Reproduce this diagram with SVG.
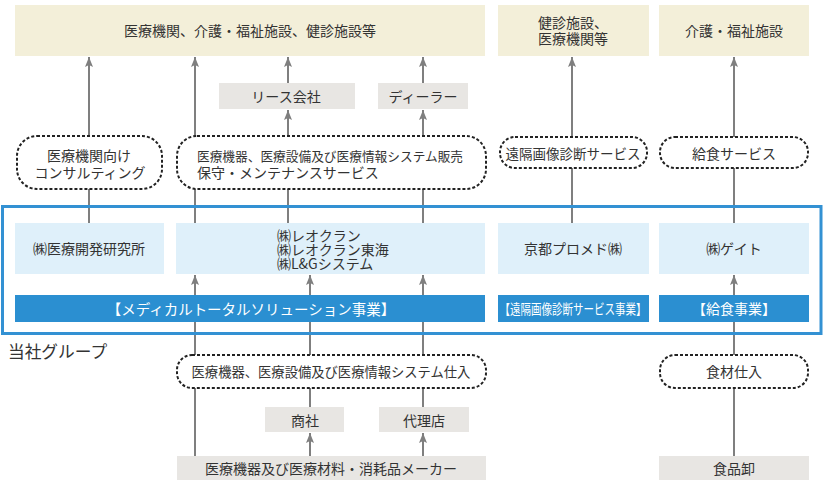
<svg xmlns="http://www.w3.org/2000/svg" width="823" height="483" viewBox="0 0 823 483">
<style>
text{font-family:"Noto Sans CJK JP","Noto Sans",sans-serif;font-size:14px;fill:#333;dominant-baseline:central}
.c{text-anchor:middle}
.w{fill:#fff}
.dest{fill:#f3efd9}
.mid{fill:#e8e6e3}
.co{fill:#dff0fa}
.bar{fill:#2b8fd1}
.pill{fill:#fff;stroke:#222;stroke-width:2;stroke-dasharray:3 2}
.ln{stroke:#7f7f7f;stroke-width:2;fill:none}
</style>
<defs>
<marker id="up" viewBox="0 0 8 10" refX="4" refY="0" markerUnits="userSpaceOnUse" markerWidth="8" markerHeight="10" orient="0">
<path d="M0,10 L4,0 L8,10 L4,8 Z" fill="#7f7f7f"/>
</marker>
</defs>
<g id="connectors">
<line class="ln" x1="89" y1="223" x2="89" y2="189"/>
<line class="ln" x1="89" y1="136" x2="89" y2="57" marker-end="url(#up)"/>
<line class="ln" x1="195" y1="223" x2="195" y2="189"/>
<line class="ln" x1="195" y1="136" x2="195" y2="57" marker-end="url(#up)"/>
<line class="ln" x1="288" y1="223" x2="288" y2="189"/>
<line class="ln" x1="288" y1="136" x2="288" y2="110" marker-end="url(#up)"/>
<line class="ln" x1="288" y1="83" x2="288" y2="57" marker-end="url(#up)"/>
<line class="ln" x1="423" y1="223" x2="423" y2="189"/>
<line class="ln" x1="423" y1="136" x2="423" y2="110" marker-end="url(#up)"/>
<line class="ln" x1="423" y1="83" x2="423" y2="57" marker-end="url(#up)"/>
<line class="ln" x1="572" y1="223" x2="572" y2="168"/>
<line class="ln" x1="572" y1="137" x2="572" y2="57" marker-end="url(#up)"/>
<line class="ln" x1="734" y1="223" x2="734" y2="168"/>
<line class="ln" x1="734" y1="137" x2="734" y2="57" marker-end="url(#up)"/>
<line class="ln" x1="195" y1="456" x2="195" y2="388"/>
<line class="ln" x1="195" y1="355" x2="195" y2="275" marker-end="url(#up)"/>
<line class="ln" x1="310" y1="456" x2="310" y2="433" marker-end="url(#up)"/>
<line class="ln" x1="310" y1="407" x2="310" y2="388"/>
<line class="ln" x1="310" y1="355" x2="310" y2="275" marker-end="url(#up)"/>
<line class="ln" x1="423" y1="456" x2="423" y2="433" marker-end="url(#up)"/>
<line class="ln" x1="423" y1="407" x2="423" y2="388"/>
<line class="ln" x1="423" y1="355" x2="423" y2="275" marker-end="url(#up)"/>
<line class="ln" x1="734" y1="456" x2="734" y2="388"/>
<line class="ln" x1="734" y1="355" x2="734" y2="275" marker-end="url(#up)"/>
</g>
<g id="group-frame">
<rect x="2.5" y="206.5" width="818.5" height="127" fill="none" stroke="#3391d3" stroke-width="3"/>
<text x="8" y="351" style="font-size:16.7px">当社グループ</text>
</g>
<g id="dest-main"><rect class="dest" x="15" y="5" width="470" height="51"/><text class="c" x="250" y="30">医療機関、介護・福祉施設、健診施設等</text></g>
<g id="dest-kenshin"><rect class="dest" x="498" y="5" width="151" height="51"/><text class="c" x="573" y="22">健診施設、</text><text class="c" x="573" y="38">医療機関等</text></g>
<g id="dest-kaigo"><rect class="dest" x="659" y="5" width="150" height="51"/><text class="c" x="734" y="30">介護・福祉施設</text></g>
<g id="lease"><rect class="mid" x="219" y="83" width="136" height="26"/><text class="c" x="286" y="96">リース会社</text></g>
<g id="dealer"><rect class="mid" x="378" y="83" width="90" height="26"/><text class="c" x="423" y="96">ディーラー</text></g>
<g id="pill-consult"><rect class="pill" x="17" y="136" width="145" height="53" rx="20"/><text class="c" x="89" y="155">医療機関向け</text><text class="c" x="90" y="172">コンサルティング</text></g>
<g id="pill-sales"><rect class="pill" x="177" y="136" width="309" height="53" rx="20"/><text x="197" y="155" style="font-size:12.7px">医療機器、医療設備及び医療情報システム販売</text><text x="197" y="172">保守・メンテナンスサービス</text></g>
<g id="pill-remote"><rect class="pill" x="500" y="137" width="147" height="31" rx="15"/><text class="c" x="573" y="153" style="font-size:13.5px">遠隔画像診断サービス</text></g>
<g id="pill-food"><rect class="pill" x="660" y="137" width="148" height="31" rx="15"/><text class="c" x="734" y="153">給食サービス</text></g>
<g id="co-kaihatsu"><rect class="co" x="15" y="223" width="149" height="51"/><text class="c" x="89" y="248">㈱医療開発研究所</text></g>
<g id="co-reocran"><rect class="co" x="176" y="223" width="309" height="51"/><text x="277" y="235">㈱レオクラン</text><text x="277" y="249">㈱レオクラン東海</text><text x="277" y="263">㈱L&amp;Gシステム</text></g>
<g id="co-promed"><rect class="co" x="498" y="223" width="151" height="51"/><text class="c" x="573" y="248">京都プロメド㈱</text></g>
<g id="co-gate"><rect class="co" x="659" y="223" width="150" height="51"/><text class="c" x="734" y="248">㈱ゲイト</text></g>
<g id="bar-medical"><rect class="bar" x="15" y="295" width="470" height="27"/><text class="c w" x="251" y="308" style="font-size:14.5px">【メディカルトータルソリューション事業】</text></g>
<g id="bar-remote"><rect class="bar" x="498" y="295" width="151" height="27"/><text class="c w" x="573" y="308" textLength="147" lengthAdjust="spacingAndGlyphs">【遠隔画像診断サービス事業】</text></g>
<g id="bar-food"><rect class="bar" x="659" y="295" width="150" height="27"/><text class="c w" x="734" y="308">【給食事業】</text></g>
<g id="pill-purchase"><rect class="pill" x="177" y="355" width="309" height="33" rx="15"/><text class="c" x="331" y="371" style="font-size:13.3px">医療機器、医療設備及び医療情報システム仕入</text></g>
<g id="pill-foodpurchase"><rect class="pill" x="660" y="355" width="148" height="33" rx="15"/><text class="c" x="734" y="371">食材仕入</text></g>
<g id="trading"><rect class="mid" x="265" y="407" width="79" height="25"/><text class="c" x="305" y="420">商社</text></g>
<g id="agency"><rect class="mid" x="379" y="407" width="90" height="25"/><text class="c" x="424" y="420">代理店</text></g>
<g id="maker"><rect class="mid" x="177" y="456" width="309" height="24"/><text class="c" x="331" y="468">医療機器及び医療材料・消耗品メーカー</text></g>
<g id="wholesale"><rect class="mid" x="659" y="456" width="150" height="24"/><text class="c" x="734" y="468">食品卸</text></g>
</svg>
